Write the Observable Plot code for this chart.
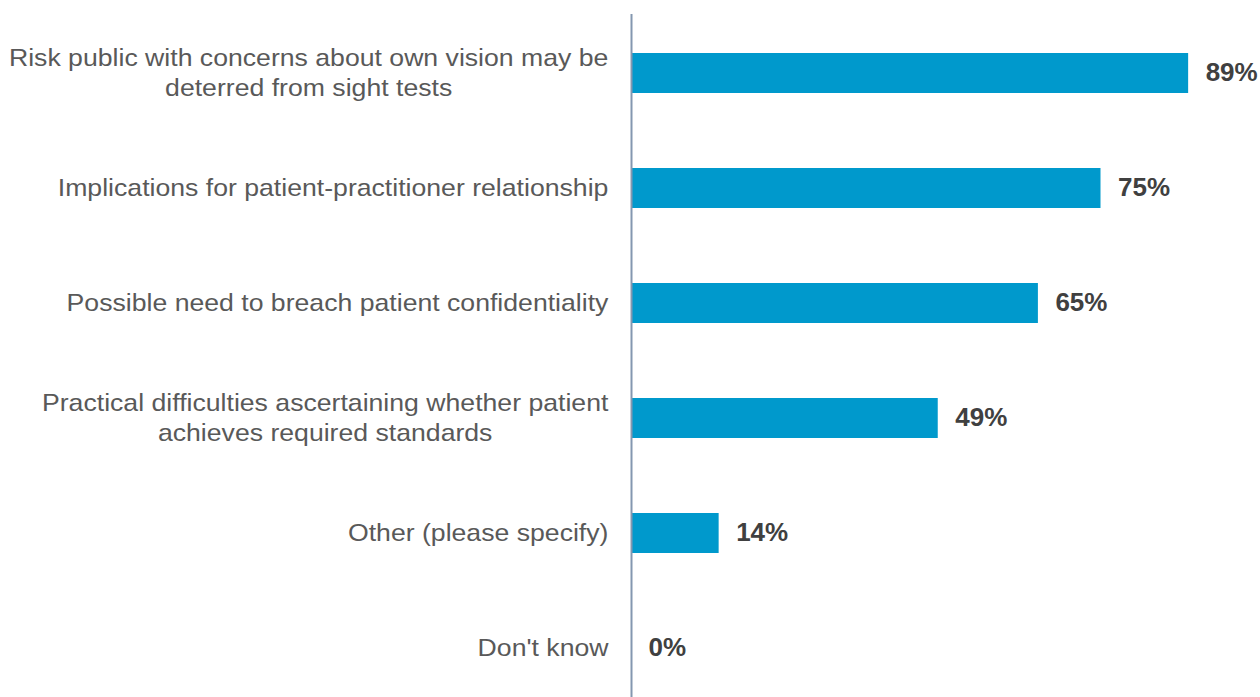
<!DOCTYPE html>
<html>
<head>
<meta charset="utf-8">
<script src="https://cdn.jsdelivr.net/npm/d3@7"></script>
<script src="https://cdn.jsdelivr.net/npm/@observablehq/plot@0.6"></script>
<style>
  html, body { margin: 0; padding: 0; background: #fff; }
  #chart svg { display: block; }
</style>
</head>
<body>
<div id="chart"></div>
<script>
const categories = [
  "Risk public with concerns about own vision may be\ndeterred from sight tests",
  "Implications for patient-practitioner relationship",
  "Possible need to breach patient confidentiality",
  "Practical difficulties ascertaining whether patient\nachieves required standards",
  "Other (please specify)",
  "Don't know"
];
const values = [89, 75, 65, 49, 14, 0];
const valueLabels = ["89%", "75%", "65%", "49%", "14%", "0%"];

const data = categories.map((c, i) => ({category: c, value: values[i], label: valueLabels[i]}));

const labelScaleX = 1.11;
const valueScaleX = 1.04;
const labelColor = "#595959";
const valueColor = "#404040";
const labelFont = "24px 'Liberation Sans', Arial, sans-serif";
const ctx = document.createElement("canvas").getContext("2d");
ctx.font = labelFont;
const blockWidth = s => Math.max(...s.split("\n").map(l => ctx.measureText(l).width)) * labelScaleX;

const labelMarks = data.map(d => Plot.text([d], {
  x: () => 0,
  y: "category",
  text: "category",
  textAnchor: "middle",
  lineAnchor: "middle",
  lineHeight: 1.25,
  fontSize: 24,
  fill: labelColor,
  dx: -(23 + blockWidth(d.category) / 2),
  dy: -2
}));

const chart = Plot.plot({
  width: 1260,
  height: 697,
  marginLeft: 631,
  marginRight: 3,
  marginTop: 29,
  marginBottom: 6,
  style: {fontFamily: "'Liberation Sans', Arial, sans-serif", background: "#fff"},
  x: {domain: [0, 100], axis: null},
  y: {domain: categories, axis: null, paddingInner: 0.653, paddingOuter: 0.2},
  marks: [
    Plot.barX(data, {x: "value", y: "category", fill: "#0099CC"}),
    Plot.ruleX([0], {stroke: "#8497B0", strokeWidth: 2, insetTop: -15, insetBottom: -6}),
    Plot.text(data, {
      x: "value", y: "category", text: "label",
      textAnchor: "start", dx: 17, dy: -1,
      fontSize: 25, fontWeight: "bold", fill: valueColor
    }),
    ...labelMarks
  ]
});

// Horizontal stretch of the text glyphs about each text's own anchor point
function stretch(color, k) {
  chart.querySelectorAll("g[aria-label='text']").forEach(g => {
    if ((g.getAttribute("fill") || "").toLowerCase() !== color) return;
    g.querySelectorAll(":scope > text").forEach(t => {
      const tr = t.getAttribute("transform") || "";
      t.setAttribute("transform", `${tr} scale(${k},1)`);
    });
  });
}
stretch(labelColor, labelScaleX);
stretch(valueColor, valueScaleX);

document.getElementById("chart").appendChild(chart);
</script>
</body>
</html>
